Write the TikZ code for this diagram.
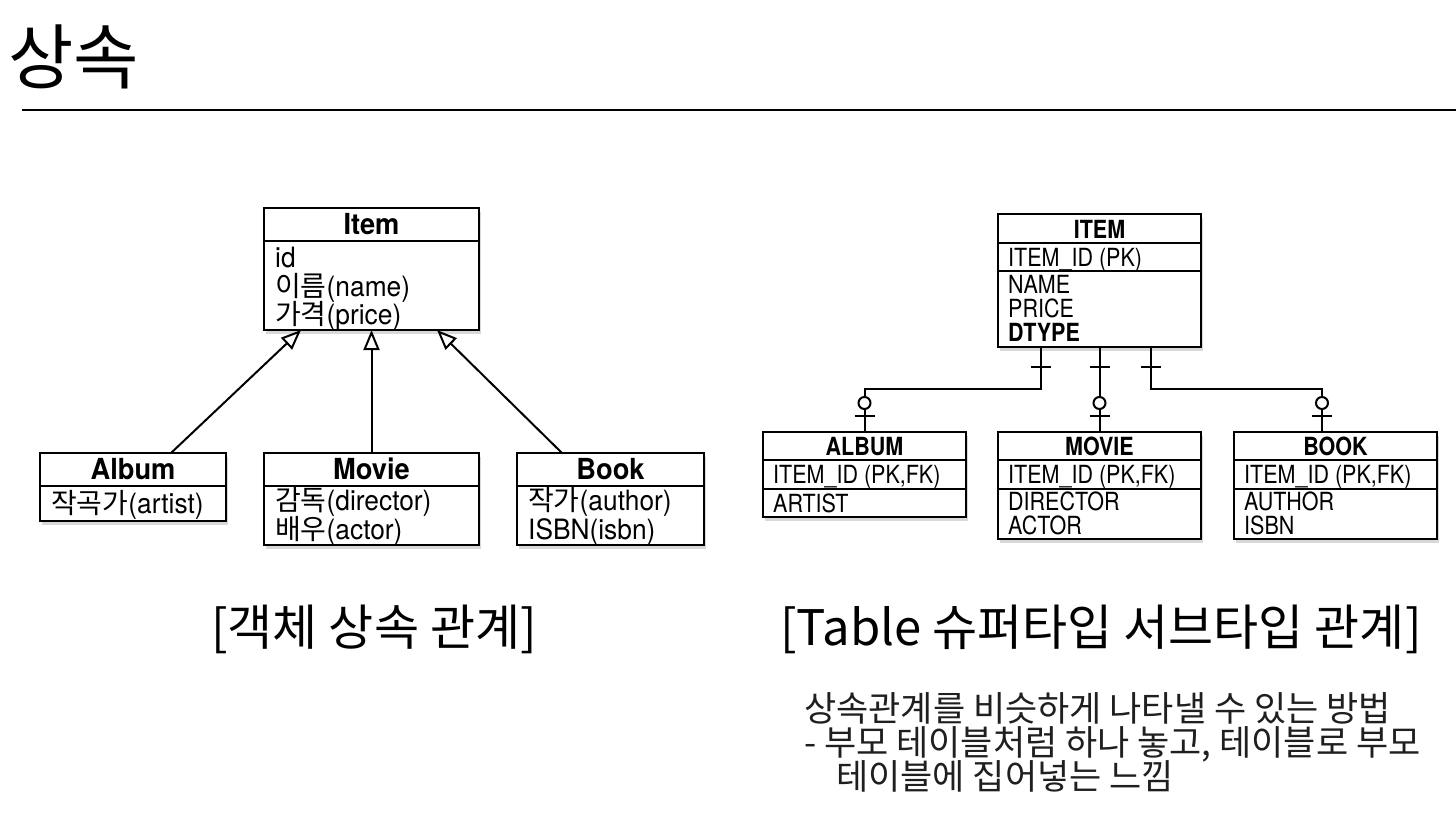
\documentclass[tikz,border=0pt]{standalone}
\usepackage{fontspec}
\setmainfont{TeX Gyre Heros}
\newfontfamily\cnd[FakeStretch=0.86]{TeX Gyre Heros}
\newfontfamily\cndu[FakeStretch=0.94]{TeX Gyre Heros}
\newfontfamily\kr{Noto Sans CJK KR}
\newcommand{\K}[1]{{\kr #1}}
\usetikzlibrary{arrows.meta,shadows,calc}
\begin{document}
\begin{tikzpicture}[x=1pt,y=-1pt,
  box/.style={draw, line width=2.2pt, fill=white, anchor=north west, inner sep=0pt, outer sep=0pt,
    drop shadow={shadow xshift=1.5pt, shadow yshift=-3.5pt, opacity=0.3}},
  sep/.style={line width=2pt},
  umlhead/.style={anchor=base, inner sep=0pt, font={\cndu\fontsize{29}{30}\selectfont\bfseries}},
  umltxt/.style={anchor=base west, inner sep=0pt, font={\cndu\fontsize{28}{30}\selectfont}},
  erdhead/.style={anchor=base, inner sep=0pt, font={\cnd\fontsize{25}{27}\selectfont\bfseries}},
  erdtxt/.style={anchor=base west, inner sep=0pt, font={\cnd\fontsize{25}{27}\selectfont}},
  inh/.style={line width=2pt, -{Triangle[open, length=20pt, width=16pt, line width=2pt]}},
  conn/.style={line width=2pt},
  caption/.style={anchor=base, inner sep=0pt, font={\kr\fontsize{49}{52}\selectfont}},
  note/.style={anchor=base west, inner sep=0pt, text=black!88, font={\kr\fontsize{35}{36}\selectfont}}
]
\useasboundingbox (0,0) rectangle (1456,815);
\fill[white] (0,0) rectangle (1456,815);

% title
\node[anchor=base west, inner sep=0pt, font={\kr\fontsize{71}{74}\selectfont}] (title) at (8,83) {상속};
\draw[line width=1.2pt] (22,110) -- (1456,110);

% ---------- UML ----------
\node[box, minimum width=215pt, minimum height=122pt] (item) at (264,208) {};
\draw[sep] ($(item.north west)+(0,33)$) -- ($(item.north east)+(0,33)$);
\node[umlhead] (itemh) at ($(item.north)+(0,26)$) {Item};
\node[umltxt] (i1) at ($(item.north west)+(11,59)$) {id};
\node[umltxt] (i2) at ($(item.north west)+(11,88)$) {\K{이름}(name)};
\node[umltxt] (i3) at ($(item.north west)+(11,116)$) {\K{가격}(price)};

\node[box, minimum width=186pt, minimum height=68pt] (album) at (40,453) {};
\draw[sep] ($(album.north west)+(0,33)$) -- ($(album.north east)+(0,33)$);
\node[umlhead] (albumh) at ($(album.north)+(0,26)$) {Album};
\node[umltxt] (a1) at ($(album.north west)+(11,60)$) {\K{작곡가}(artist)};

\node[box, minimum width=215pt, minimum height=92pt] (movie) at (264,453) {};
\draw[sep] ($(movie.north west)+(0,33)$) -- ($(movie.north east)+(0,33)$);
\node[umlhead] (movieh) at ($(movie.north)+(0,26)$) {Movie};
\node[umltxt] (m1) at ($(movie.north west)+(11,57)$) {\K{감독}(director)};
\node[umltxt] (m2) at ($(movie.north west)+(11,86)$) {\K{배우}(actor)};

\node[box, minimum width=187pt, minimum height=92pt] (book) at (517,453) {};
\draw[sep] ($(book.north west)+(0,33)$) -- ($(book.north east)+(0,33)$);
\node[umlhead] (bookh) at ($(book.north)+(0,26)$) {Book};
\node[umltxt] (b1) at ($(book.north west)+(11,57)$) {\K{작가}(author)};
\node[umltxt] (b2) at ($(book.north west)+(11,86)$) {ISBN(isbn)};

\draw[inh] ($(album.north west)+(131,0)$) -- ($(item.south west)+(37,0)$);
\draw[inh] (movie.north) -- (item.south);
\draw[inh] ($(book.north west)+(45,0)$) -- ($(item.south west)+(173,0)$);

\node[caption] (cap1) at (374,645) {[객체 상속 관계]};

% ---------- ERD ----------
\node[box, minimum width=203pt, minimum height=133pt] (ITEM) at (998,214) {};
\draw[sep] ($(ITEM.north west)+(0,29)$) -- ($(ITEM.north east)+(0,29)$);
\draw[sep] ($(ITEM.north west)+(0,57)$) -- ($(ITEM.north east)+(0,57)$);
\node[erdhead] (ITEMh) at ($(ITEM.north)+(0,24)$) {ITEM};
\node[erdtxt] (I1) at ($(ITEM.north west)+(10,52)$) {ITEM\_ID (PK)};
\node[erdtxt] (I2) at ($(ITEM.north west)+(10,79)$) {NAME};
\node[erdtxt] (I3) at ($(ITEM.north west)+(10,103)$) {PRICE};
\node[erdtxt, font={\cnd\fontsize{25}{27}\selectfont\bfseries}] (I4) at ($(ITEM.north west)+(10,127)$) {DTYPE};

\node[box, minimum width=203pt, minimum height=85pt] (ALBUM) at (763,432) {};
\draw[sep] ($(ALBUM.north west)+(0,28)$) -- ($(ALBUM.north east)+(0,28)$);
\draw[sep] ($(ALBUM.north west)+(0,57)$) -- ($(ALBUM.north east)+(0,57)$);
\node[erdhead] (ALBUMh) at ($(ALBUM.north)+(0,23)$) {ALBUM};
\node[erdtxt] (A1) at ($(ALBUM.north west)+(10,51)$) {ITEM\_ID (PK,FK)};
\node[erdtxt] (A2) at ($(ALBUM.north west)+(10,80)$) {ARTIST};

\node[box, minimum width=203pt, minimum height=107pt] (MOVIE) at (998,432) {};
\draw[sep] ($(MOVIE.north west)+(0,28)$) -- ($(MOVIE.north east)+(0,28)$);
\draw[sep] ($(MOVIE.north west)+(0,57)$) -- ($(MOVIE.north east)+(0,57)$);
\node[erdhead] (MOVIEh) at ($(MOVIE.north)+(0,23)$) {MOVIE};
\node[erdtxt] (M1) at ($(MOVIE.north west)+(10,51)$) {ITEM\_ID (PK,FK)};
\node[erdtxt] (M2) at ($(MOVIE.north west)+(10,78)$) {DIRECTOR};
\node[erdtxt] (M3) at ($(MOVIE.north west)+(10,102)$) {ACTOR};

\node[box, minimum width=203pt, minimum height=107pt] (BOOK) at (1234,432) {};
\draw[sep] ($(BOOK.north west)+(0,28)$) -- ($(BOOK.north east)+(0,28)$);
\draw[sep] ($(BOOK.north west)+(0,57)$) -- ($(BOOK.north east)+(0,57)$);
\node[erdhead] (BOOKh) at ($(BOOK.north)+(0,23)$) {BOOK};
\node[erdtxt] (B1) at ($(BOOK.north west)+(10,51)$) {ITEM\_ID (PK,FK)};
\node[erdtxt] (B2) at ($(BOOK.north west)+(10,78)$) {AUTHOR};
\node[erdtxt] (B3) at ($(BOOK.north west)+(10,102)$) {ISBN};

% connectors
\draw[conn] ($(ITEM.south west)+(43,0)$) -- ++(0,42) -| (ALBUM.north);
\draw[conn] (ITEM.south) -- (MOVIE.north);
\draw[conn] ($(ITEM.south west)+(153,0)$) -- ++(0,42) -| ($(BOOK.north west)+(88,0)$);
% parent-side bars
\draw[conn] ($(ITEM.south west)+(33,20)$) -- ++(20,0);
\draw[conn] ($(ITEM.south)+(-10,20)$) -- ++(20,0);
\draw[conn] ($(ITEM.south west)+(143,20)$) -- ++(20,0);
% child-side circle + bar
\draw[conn, fill=white] ($(ALBUM.north)+(0,-29)$) circle[radius=6pt];
\draw[conn] ($(ALBUM.north)+(-10,-16)$) -- ++(20,0);
\draw[conn, fill=white] ($(MOVIE.north)+(0,-29)$) circle[radius=6pt];
\draw[conn] ($(MOVIE.north)+(-10,-16)$) -- ++(20,0);
\draw[conn, fill=white] ($(BOOK.north west)+(88,-29)$) circle[radius=6pt];
\draw[conn] ($(BOOK.north west)+(78,-16)$) -- ++(20,0);

\node[caption] (cap2) at (1101,645) {[Table 슈퍼타입 서브타입 관계]};

% note
\node[note] (n1) at (804,721) {상속관계를 비슷하게 나타낼 수 있는 방법};
\node[note] (n2) at (804,755) {- 부모 테이블처럼 하나 놓고, 테이블로 부모};
\node[note] (n3) at (836,789) {테이블에 집어넣는 느낌};
\end{tikzpicture}
\end{document}
